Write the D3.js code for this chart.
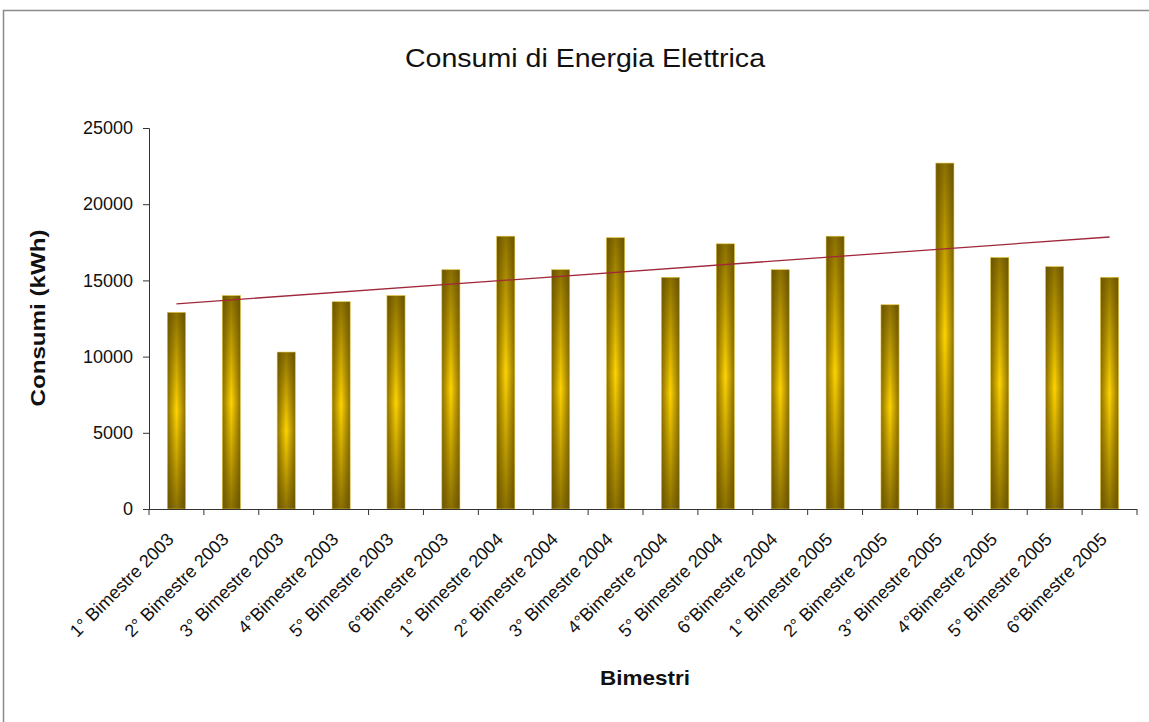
<!DOCTYPE html>
<html>
<head>
<meta charset="utf-8">
<script src="https://cdn.jsdelivr.net/npm/d3@7"></script>
<style>
  body { margin: 0; background: #fff; }
  svg { display: block; font-family: "Liberation Sans", Arial, sans-serif; }
</style>
</head>
<body>
<div id="chart"></div>
<script>
// categories (bimonthly periods)
var bimestri = [
  '1° Bimestre 2003', '2° Bimestre 2003', '3° Bimestre 2003', '4°Bimestre 2003', '5° Bimestre 2003', '6°Bimestre 2003',
  '1° Bimestre 2004', '2° Bimestre 2004', '3° Bimestre 2004', '4°Bimestre 2004', '5° Bimestre 2004', '6°Bimestre 2004',
  '1° Bimestre 2005', '2° Bimestre 2005', '3° Bimestre 2005', '4°Bimestre 2005', '5° Bimestre 2005', '6°Bimestre 2005'
];
// consumption in kWh
var consumi = [12900, 14000, 10300, 13600, 14000, 15700, 17900, 15700, 17800, 15200, 17400, 15700, 17900, 13400, 22700, 16500, 15900, 15200];
var yTicks = [0, 5000, 10000, 15000, 20000, 25000];

var W = 1149, H = 722;

var svg = d3.select('#chart').append('svg').attr('width', W).attr('height', H);

// frame around the chart
svg.append('rect')
  .attr('x', 3.5).attr('y', 10.5)
  .attr('width', W + 10).attr('height', H + 10)
  .attr('fill', '#fff').attr('stroke', '#8a8a8a').attr('stroke-width', 1.5);

var x = d3.scaleBand().domain(bimestri).range([149, 1137]).paddingInner(0.67).paddingOuter(0.335);
var y = d3.scaleLinear().domain([0, 25000]).range([509, 128]);

// gradients for the gold bars
var defs = svg.append('defs');
var gh = defs.append('linearGradient').attr('id', 'gh').attr('x1', 0).attr('x2', 1).attr('y1', 0).attr('y2', 0);
gh.append('stop').attr('offset', '0%').attr('stop-color', '#8c7000');
gh.append('stop').attr('offset', '50%').attr('stop-color', '#ffd400');
gh.append('stop').attr('offset', '100%').attr('stop-color', '#8c7000');
var gv = defs.append('linearGradient').attr('id', 'gv').attr('x1', 0).attr('x2', 0).attr('y1', 0).attr('y2', 1);
gv.append('stop').attr('offset', '0%').attr('stop-color', '#5a4600').attr('stop-opacity', 0.7);
gv.append('stop').attr('offset', '50%').attr('stop-color', '#5a4600').attr('stop-opacity', 0);
gv.append('stop').attr('offset', '100%').attr('stop-color', '#5a4600').attr('stop-opacity', 0.7);

// title
svg.append('text')
  .attr('x', 585).attr('y', 67)
  .attr('text-anchor', 'middle')
  .attr('font-size', 25)
  .attr('textLength', 360)
  .attr('lengthAdjust', 'spacingAndGlyphs')
  .attr('fill', '#111')
  .text('Consumi di Energia Elettrica');

// bars
var bars = svg.append('g');
bars.selectAll('rect.b1').data(consumi).enter().append('rect')
  .attr('x', function (d, i) { return x(bimestri[i]); })
  .attr('y', function (d) { return y(d); })
  .attr('width', x.bandwidth())
  .attr('height', function (d) { return y(0) - y(d); })
  .attr('fill', 'url(#gh)');
bars.selectAll('rect.b2').data(consumi).enter().append('rect')
  .attr('x', function (d, i) { return x(bimestri[i]); })
  .attr('y', function (d) { return y(d); })
  .attr('width', x.bandwidth())
  .attr('height', function (d) { return y(0) - y(d); })
  .attr('fill', 'url(#gv)')
  .attr('stroke', '#e8c84a').attr('stroke-width', 0.6);

// linear trend line (least squares over the series)
var n = consumi.length;
var mx = d3.mean(consumi, function (d, i) { return i; });
var my = d3.mean(consumi);
var sxy = d3.sum(consumi, function (d, i) { return (i - mx) * (d - my); });
var sxx = d3.sum(consumi, function (d, i) { return (i - mx) * (i - mx); });
var slope = sxy / sxx, icpt = my - slope * mx;
var trend = [0, n - 1].map(function (i) { return [i, icpt + slope * i]; });
svg.append('path')
  .datum(trend)
  .attr('fill', 'none')
  .attr('stroke', '#a0283a')
  .attr('stroke-width', 1.3)
  .attr('d', d3.line()
    .x(function (d) { return x(bimestri[d[0]]) + x.bandwidth() / 2; })
    .y(function (d) { return y(d[1]); }));

// y axis
var yAxis = svg.append('g')
  .attr('transform', 'translate(149,0)')
  .call(d3.axisLeft(y).tickValues(yTicks).tickSize(6).tickPadding(10).tickFormat(d3.format('d')));
yAxis.selectAll('text').attr('font-size', 18).attr('fill', '#111').attr('font-family', '"Liberation Sans", Arial, sans-serif');
yAxis.selectAll('line,path').attr('stroke', '#333');

// x axis: ticks between categories
var xAxisG = svg.append('g');
xAxisG.append('line')
  .attr('x1', 149).attr('x2', 1137).attr('y1', 509.5).attr('y2', 509.5)
  .attr('stroke', '#333');
var step = x.step();
xAxisG.selectAll('line.t').data(d3.range(n + 1)).enter().append('line')
  .attr('x1', function (i) { return 149 + i * step; })
  .attr('x2', function (i) { return 149 + i * step; })
  .attr('y1', 509).attr('y2', 515)
  .attr('stroke', '#333');

xAxisG.selectAll('text').data(bimestri).enter().append('text')
  .attr('transform', function (d) {
    var cx = x(d) + x.bandwidth() / 2 - 6;
    return 'translate(' + cx + ',536) rotate(-45)';
  })
  .attr('text-anchor', 'end')
  .attr('dy', '0.35em')
  .attr('font-size', 18)
  .attr('fill', '#111')
  .text(function (d) { return d; });

// axis titles
svg.append('text')
  .attr('transform', 'translate(45,318) rotate(-90)')
  .attr('text-anchor', 'middle')
  .attr('font-size', 21)
  .attr('textLength', 177)
  .attr('lengthAdjust', 'spacingAndGlyphs')
  .attr('font-weight', 'bold')
  .attr('fill', '#111')
  .text('Consumi (kWh)');
svg.append('text')
  .attr('x', 645).attr('y', 685)
  .attr('text-anchor', 'middle')
  .attr('font-size', 21)
  .attr('textLength', 90)
  .attr('lengthAdjust', 'spacingAndGlyphs')
  .attr('font-weight', 'bold')
  .attr('fill', '#111')
  .text('Bimestri');
</script>
</body>
</html>
